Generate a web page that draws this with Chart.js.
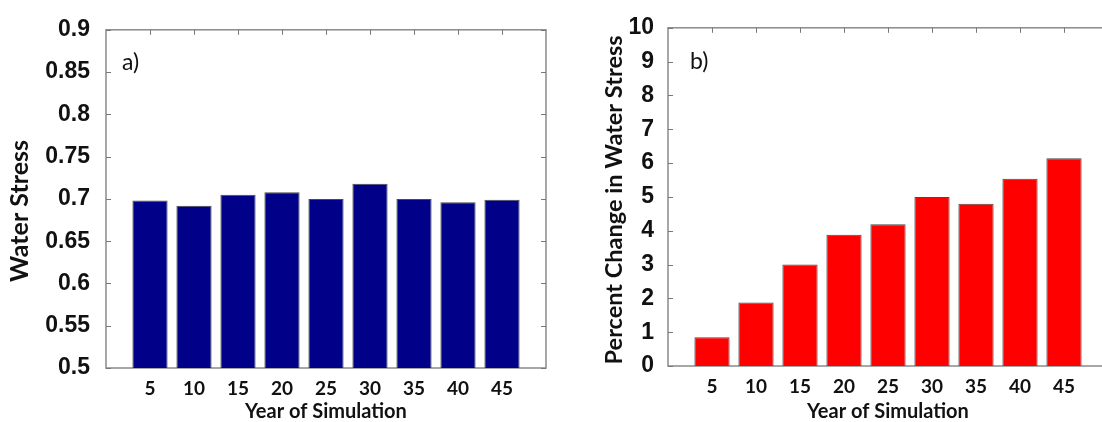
<!DOCTYPE html>
<html>
<head>
<meta charset="utf-8">
<script src="https://cdn.jsdelivr.net/npm/chart.js@4.4.1/dist/chart.umd.min.js"></script>
<style>
  html, body { margin: 0; padding: 0; background: #fff; overflow: hidden; }
  #wrap { position: relative; width: 1102px; height: 422px; overflow: hidden; }
  .panel { position: absolute; top: 0; width: 560px; height: 422px; }
</style>
</head>
<body>
<div id="wrap">
  <div class="panel" style="left:0"><canvas id="chartA"></canvas></div>
  <div class="panel" style="left:560px"><canvas id="chartB"></canvas></div>
</div>
<script>
// data
const years = [5, 10, 15, 20, 25, 30, 35, 40, 45];
const waterStress = [0.698, 0.692, 0.705, 0.708, 0.700, 0.718, 0.700, 0.696, 0.699];
const pctChange = [0.85, 1.88, 3.0, 3.88, 4.19, 5.0, 4.8, 5.54, 6.14];
const xTitle = 'Year of Simulation';

// box, inward ticks, panel letter and rotated y title
const framePlugin = {
  id: 'frame',
  beforeDatasetsDraw(chart, args, opts) {
    const { ctx, chartArea: a, scales: { x, y } } = chart;
    ctx.save();
    ctx.strokeStyle = '#8a8a8a';
    ctx.lineWidth = 1.5;
    ctx.strokeRect(a.left, a.top, a.right - a.left, a.bottom - a.top);
    ctx.lineWidth = 1;
    ctx.strokeStyle = '#777';
    ctx.beginPath();
    years.forEach(v => {
      const px = Math.round(x.getPixelForValue(v)) + 0.5;
      ctx.moveTo(px, a.top);
      ctx.lineTo(px, a.top + 5);
    });
    y.ticks.forEach(t => {
      const py = Math.round(y.getPixelForValue(t.value)) + 0.5;
      ctx.moveTo(a.left, py);
      ctx.lineTo(a.left + 5, py);
      ctx.moveTo(a.right, py);
      ctx.lineTo(a.right - 5, py);
    });
    ctx.stroke();

    ctx.fillStyle = '#111';
    ctx.font = '23px Lato';
    ctx.textBaseline = 'middle';
    ctx.textAlign = 'left';
    ctx.fillText(opts.letter, opts.lx, opts.ly);

    ctx.translate(opts.tx, (a.top + a.bottom) / 2 + opts.dy);
    ctx.rotate(-Math.PI / 2);
    ctx.textAlign = 'center';
    ctx.font = opts.tfont;
    ctx.fillText(opts.title, 0, 0);
    ctx.restore();
  }
};

function makeChart(id, values, color, yMin, yMax, yStep, fmt, lay) {
  return new Chart(document.getElementById(id), {
    type: 'bar',
    data: {
      datasets: [{
        data: years.map((yr, i) => ({ x: yr, y: values[i] })),
        backgroundColor: color,
        borderColor: '#4a4a4a',
        borderWidth: 1,
        barPercentage: 0.8,
        categoryPercentage: 1
      }]
    },
    options: {
      responsive: true,
      maintainAspectRatio: false,
      animation: false,
      layout: { padding: { left: 0, right: lay.right, top: lay.top, bottom: 0 } },
      plugins: {
        legend: { display: false },
        tooltip: { enabled: false },
        frame: lay.frame
      },
      scales: {
        x: {
          type: 'linear',
          min: 0,
          max: 50,
          offset: false,
          grid: { display: false, drawTicks: false },
          border: { display: false },
          afterFit: (s) => { s.height = lay.xh; },
          ticks: {
            stepSize: 5,
            autoSkip: false,
            maxRotation: 0,
            padding: 9,
            color: '#111',
            font: { family: 'Lato', size: 19, weight: 'bold' },
            callback: (v) => (v === 0 || v === 50) ? '' : v
          },
          title: {
            display: true,
            text: xTitle,
            color: '#111',
            font: { family: 'Lato', size: 20, weight: 'bold', lineHeight: 1 },
            padding: { top: 0, bottom: 0 }
          }
        },
        y: {
          min: yMin,
          max: yMax,
          grid: { display: false, drawTicks: false },
          border: { display: false },
          afterFit: (s) => { s.width = lay.yw; },
          ticks: {
            stepSize: yStep,
            padding: lay.ypad,
            color: '#111',
            font: { family: 'Liberation Sans', size: 23, weight: 'bold' },
            callback: fmt
          }
        }
      }
    },
    plugins: [framePlugin]
  });
}

makeChart('chartA', waterStress, '#000088', 0.5, 0.9, 0.05,
  (v) => String(parseFloat(v.toFixed(2))),
  { right: 14, top: 22, xh: 54, yw: 106, ypad: 16,
    frame: { letter: 'a)', lx: 122, ly: 63, title: 'Water Stress', tx: 20, dy: 12,
             tfont: 'bold 25px Lato' } });

makeChart('chartB', pctChange, '#ff0000', 0, 10, 1,
  (v) => String(v),
  { right: 12, top: 21, xh: 56, yw: 108, ypad: 14,
    frame: { letter: 'b)', lx: 130, ly: 62, title: 'Percent Change in Water Stress', tx: 54, dy: 3,
             tfont: 'bold 23.5px Lato' } });
</script>
</body>
</html>
